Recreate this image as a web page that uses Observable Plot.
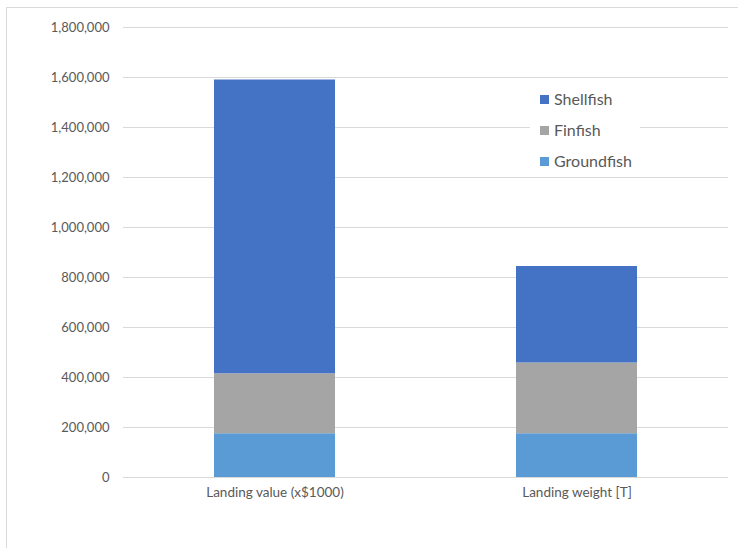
<!DOCTYPE html>
<html>
<head>
<meta charset="utf-8">
<script src="https://cdn.jsdelivr.net/npm/d3@7"></script>
<script src="https://cdn.jsdelivr.net/npm/@observablehq/plot@0.6"></script>
<style>
  html, body { margin: 0; padding: 0; background: #fff; }
  #wrap { position: relative; width: 738px; height: 548px; overflow: hidden; font-family: Lato, "Open Sans", sans-serif; }
  #frame { position: absolute; left: 6px; top: 7px; width: 760px; height: 570px; border: 1px solid #d9d9d9; box-sizing: border-box; pointer-events: none; }
  #chart { position: absolute; left: 0; top: 0; }
  #legend { position: absolute; left: 530px; top: 82px; width: 110px; height: 94px; background: #fff; color: #595959; font-size: 16px; }
  .item { position: absolute; left: 10px; height: 20px; line-height: 20px; white-space: nowrap; }
  .sw { display: inline-block; width: 9px; height: 9px; margin-right: 5px; vertical-align: 1px; }
</style>
</head>
<body>
<div id="wrap">
  <div id="frame"></div>
  <div id="chart"></div>
  <div id="legend"></div>
</div>
<script>
// Landings by species group, for value and weight
const categories = ["Landing value (x$1000)", "Landing weight [T]"];
const groups = ["Groundfish", "Finfish", "Shellfish"];
const groundfish = [175000, 175000];
const finfish = [240000, 283000];
const shellfish = [1175000, 386000];
const colors = ["#5B9BD5", "#A5A5A5", "#4472C4"];
const yTicks = [0, 200000, 400000, 600000, 800000, 1000000, 1200000, 1400000, 1600000, 1800000];

const seriesValues = [groundfish, finfish, shellfish];
const rows = [];
groups.forEach((g, gi) => {
  categories.forEach((c, ci) => rows.push({category: c, group: g, value: seriesValues[gi][ci]}));
});

const textColor = "#595959";

const chart = Plot.plot({
  width: 738,
  height: 548,
  marginLeft: 123,
  marginRight: 10,
  marginTop: 27,
  marginBottom: 71,
  style: {fontFamily: "Lato, 'Open Sans', sans-serif", color: textColor, background: "transparent"},
  x: {domain: categories, paddingInner: 0.6, paddingOuter: 0.3, label: null},
  y: {domain: [0, 1800000], label: null},
  color: {domain: groups, range: colors},
  marks: [
    Plot.gridY(yTicks, {stroke: "#d9d9d9", strokeOpacity: 1, strokeWidth: 1}),
    Plot.barY(rows, {
      x: "category",
      y: "value",
      fill: "group",
      order: groups
    }),
    Plot.axisY({ticks: yTicks, tickSize: 0, tickPadding: 14, tickFormat: d3.format(","), fontSize: 13, fill: textColor, label: null}),
    Plot.axisX({tickSize: 0, tickPadding: 10, fontSize: 13.5, fill: textColor, label: null})
  ]
});
document.getElementById("chart").appendChild(chart);

// Legend, top series first
const legend = document.getElementById("legend");
[...groups].reverse().forEach((g, i) => {
  const item = document.createElement("div");
  item.className = "item";
  item.style.top = (7 + i * 31) + "px";
  const sw = document.createElement("span");
  sw.className = "sw";
  sw.style.background = colors[groups.indexOf(g)];
  item.appendChild(sw);
  item.appendChild(document.createTextNode(g));
  legend.appendChild(item);
});
</script>
</body>
</html>
